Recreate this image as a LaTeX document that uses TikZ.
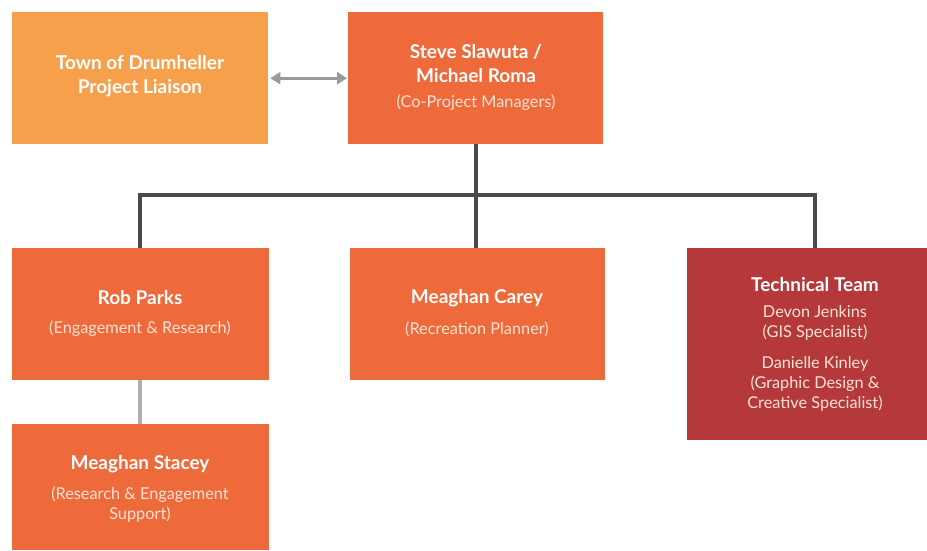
\documentclass[tikz,border=0pt]{standalone}
\usepackage{fontspec}
\setmainfont{Lato}
\usetikzlibrary{arrows.meta}
\definecolor{liaison}{HTML}{F6A04B}
\definecolor{staff}{HTML}{EF6A3B}
\definecolor{tech}{HTML}{B5393B}
\definecolor{linkdark}{HTML}{4A4A4A}
\definecolor{linklight}{HTML}{B0B0B0}
\definecolor{arrowgrey}{HTML}{9A9A9A}
\definecolor{subtext}{HTML}{FDE3D6}
\tikzset{
  x=1pt, y=-1pt,
  box/.style={fill=staff, draw=none, inner sep=0pt, anchor=north west},
  title/.style={font=\bfseries\fontsize{19}{24}\selectfont, text=white, align=center, inner sep=0pt},
  role/.style={font=\fontsize{16.3}{20}\selectfont, text=subtext, align=center, inner sep=0pt},
  trunk/.style={draw=linkdark, line width=4pt},
}
\begin{document}
\begin{tikzpicture}
\useasboundingbox (0,0) rectangle (927,550);
\fill[white] (0,0) rectangle (927,550);
% boxes
\node[box, fill=liaison, minimum width=256pt, minimum height=132pt] (liaison) at (12,12) {};
\node[box, minimum width=255pt, minimum height=132pt] (pm) at (348,12) {};
\node[box, minimum width=257pt, minimum height=132pt] (rob) at (12,248) {};
\node[box, minimum width=255pt, minimum height=132pt] (carey) at (350,248) {};
\node[box, fill=tech, minimum width=240pt, minimum height=192pt] (techteam) at (687,248) {};
\node[box, minimum width=257pt, minimum height=126pt] (stacey) at (12,424) {};
% texts
\node[title] (liaisonname) at (140,76) {Town of Drumheller\\Project Liaison};
\node[title] (pmname) at (476,64) {Steve Slawuta /\\Michael Roma};
\node[role] (pmrole) at (476,103) {(Co-Project Managers)};
\node[title] (robname) at (140,298) {Rob Parks};
\node[role] (robrole) at (140,329) {(Engagement \& Research)};
\node[title] (careyname) at (477,298) {Meaghan Carey};
\node[role] (careyrole) at (477,329) {(Recreation Planner)};
\node[title] (techname) at (815,285) {Technical Team};
\node[role] (devon) at (815,323) {Devon Jenkins\\(GIS Specialist)};
\node[role] (danielle) at (815,384) {Danielle Kinley\\(Graphic Design \&\\Creative Specialist)};
\node[title] (staceyname) at (140,464) {Meaghan Stacey};
\node[role] (staceyrole) at (140,505) {(Research \& Engagement\\Support)};
% connectors
\coordinate (bus) at (476,195);
\draw[trunk] (pm.south -| bus) -- (bus);
\draw[trunk, line join=miter] (rob.north -| 140,0) |- (bus) -| (techteam.north -| 815,0);
\draw[trunk] (bus) -- (carey.north -| bus);
\draw[draw=linklight, line width=4pt] (rob.south -| 140,0) -- (stacey.north -| 140,0);
\draw[draw=arrowgrey, line width=3pt, {Triangle[length=10pt,width=12pt]}-{Triangle[length=10pt,width=12pt]}] ([xshift=2pt]liaison.east) -- ([xshift=-1pt]pm.west);
\end{tikzpicture}
\end{document}
